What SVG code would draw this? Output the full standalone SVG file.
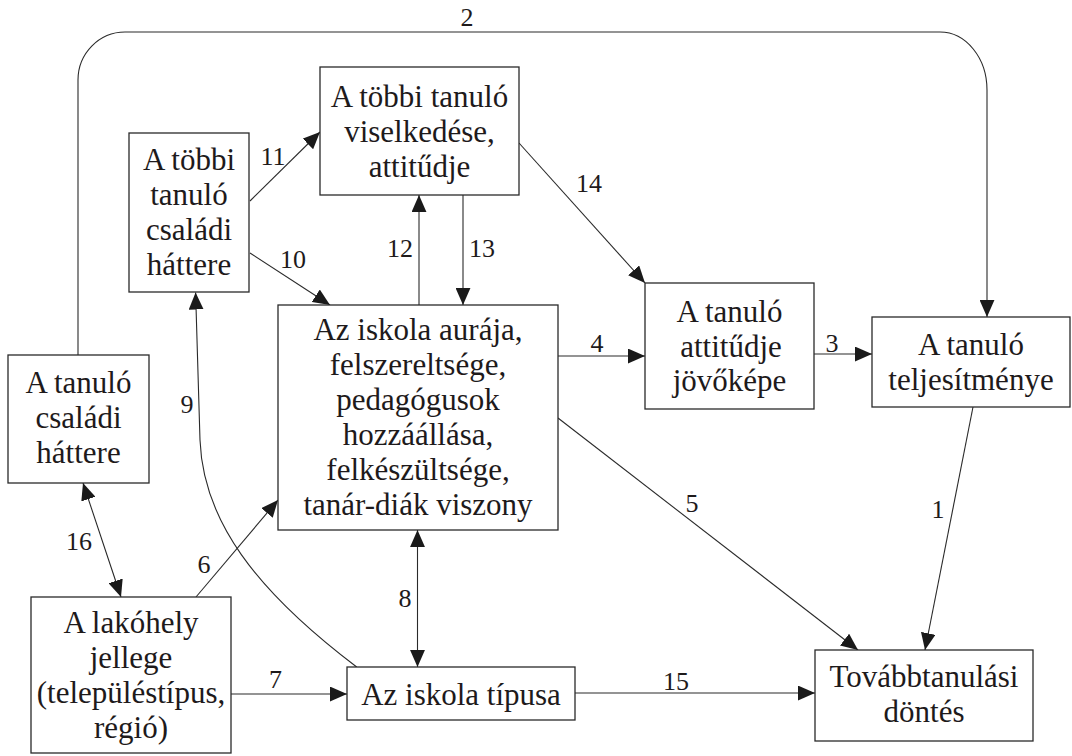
<svg xmlns="http://www.w3.org/2000/svg" width="1072" height="756" viewBox="0 0 1072 756">
<style>
.box{fill:#fff;stroke:#2a2a2a;stroke-width:1.3}
.t{font-size:31px;fill:#1e1a1b;text-anchor:middle}
.n{font-size:26px;fill:#1e1a1b;text-anchor:middle}
.c{fill:none;stroke:#2a2a2a;stroke-width:1.1}
.a{marker-end:url(#ah)}
.b{marker-start:url(#ah);marker-end:url(#ah)}
</style>
<defs>
<marker id="ah" markerUnits="userSpaceOnUse" markerWidth="17" markerHeight="15" refX="16" refY="7" orient="auto-start-reverse" viewBox="0 0 16 14">
<path d="M0,0 L16,7 L0,14 z" fill="#1a1a1a"/>
</marker>
</defs>
<rect width="1072" height="756" fill="#fff"/>
<g font-family="Liberation Serif, Times New Roman, serif">
<g id="connectors">
<path id="e2" class="c a" d="M78,355 L78,80 A47,48 0 0 1 125,32 L940,32 A47,58 0 0 1 987,90 L987,317"/>
<path id="e14" class="c a" d="M519,143 L645,283"/>
<path id="e4" class="c a" d="M558,356 L645,356"/>
<path id="e3" class="c a" d="M814,354 L872,354"/>
<path id="e5" class="c a" d="M558,418 L858,650"/>
<path id="e1" class="c a" d="M973,407 L925,650"/>
<path id="e15" class="c a" d="M575,693 L815,693"/>
<path id="e7" class="c a" d="M231,694 L347,694"/>
<path id="e8" class="c b" d="M417.5,530 L417.5,667"/>
<path id="e6" class="c a" d="M196,597 L278,500"/>
<path id="e16" class="c b" d="M83,483 L121,597"/>
<path id="e9" class="c a" d="M356.7,667 C255,590 203,520 200,440 L195.6,292.5"/>
<path id="e10" class="c a" d="M250,253 L330,305"/>
<path id="e11" class="c a" d="M250,201 L320,132"/>
<path id="e12" class="c a" d="M419,305 L419,195"/>
<path id="e13" class="c a" d="M463,195 L463,305"/>
<g id="edge-labels">
<text class="n" x="467" y="26">2</text>
<text class="n" x="273" y="165">11</text>
<text class="n" x="293" y="268">10</text>
<text class="n" x="400" y="257">12</text>
<text class="n" x="482" y="257">13</text>
<text class="n" x="589" y="192">14</text>
<text class="n" x="597" y="352">4</text>
<text class="n" x="832" y="352">3</text>
<text class="n" x="692" y="512">5</text>
<text class="n" x="938" y="518">1</text>
<text class="n" x="676" y="690">15</text>
<text class="n" x="405" y="607">8</text>
<text class="n" x="275.5" y="688">7</text>
<text class="n" x="187" y="413">9</text>
<text class="n" x="79" y="550">16</text>
<text class="n" x="204" y="573">6</text>
</g>
</g>
<g id="n-viselkedes">
<rect class="box" x="320" y="67" width="199" height="128"/>
<text class="t" x="419.5" y="107">A többi tanuló</text>
<text class="t" x="419.5" y="142">viselkedése,</text>
<text class="t" x="419.5" y="177">attitűdje</text>
</g>
<g id="n-tobbi-csaladi">
<rect class="box" x="129" y="133" width="120" height="159"/>
<text class="t" x="189" y="170">A többi</text>
<text class="t" x="189" y="205">tanuló</text>
<text class="t" x="189" y="240">családi</text>
<text class="t" x="189" y="275">háttere</text>
</g>
<g id="n-aura">
<rect class="box" x="278" y="305" width="280" height="225"/>
<text class="t" x="418" y="340">Az iskola aurája,</text>
<text class="t" x="418" y="375">felszereltsége,</text>
<text class="t" x="418" y="410">pedagógusok</text>
<text class="t" x="418" y="445">hozzáállása,</text>
<text class="t" x="418" y="480">felkészültsége,</text>
<text class="t" x="418" y="515">tanár-diák viszony</text>
</g>
<g id="n-attitud">
<rect class="box" x="645" y="283" width="169" height="126"/>
<text class="t" x="729.5" y="322">A tanuló</text>
<text class="t" x="731" y="357">attitűdje</text>
<text class="t" x="729.5" y="391">jövőképe</text>
</g>
<g id="n-teljesitmeny">
<rect class="box" x="872" y="317" width="198" height="90"/>
<text class="t" x="971" y="355">A tanuló</text>
<text class="t" x="971" y="390">teljesítménye</text>
</g>
<g id="n-csaladi">
<rect class="box" x="8" y="355" width="141" height="128"/>
<text class="t" x="78.5" y="393">A tanuló</text>
<text class="t" x="78.5" y="428">családi</text>
<text class="t" x="78.5" y="463">háttere</text>
</g>
<g id="n-lakohely">
<rect class="box" x="31" y="597" width="200" height="156"/>
<text class="t" x="131" y="633">A lakóhely</text>
<text class="t" x="131" y="668">jellege</text>
<text class="t" x="131" y="703">(településtípus,</text>
<text class="t" x="131" y="738">régió)</text>
</g>
<g id="n-tipus">
<rect class="box" x="347" y="667" width="228" height="53"/>
<text class="t" x="461" y="705">Az iskola típusa</text>
</g>
<g id="n-dontes">
<rect class="box" x="815" y="650" width="218" height="91"/>
<text class="t" x="924" y="687">Továbbtanulási</text>
<text class="t" x="924" y="722">döntés</text>
</g>
</g>
</svg>
